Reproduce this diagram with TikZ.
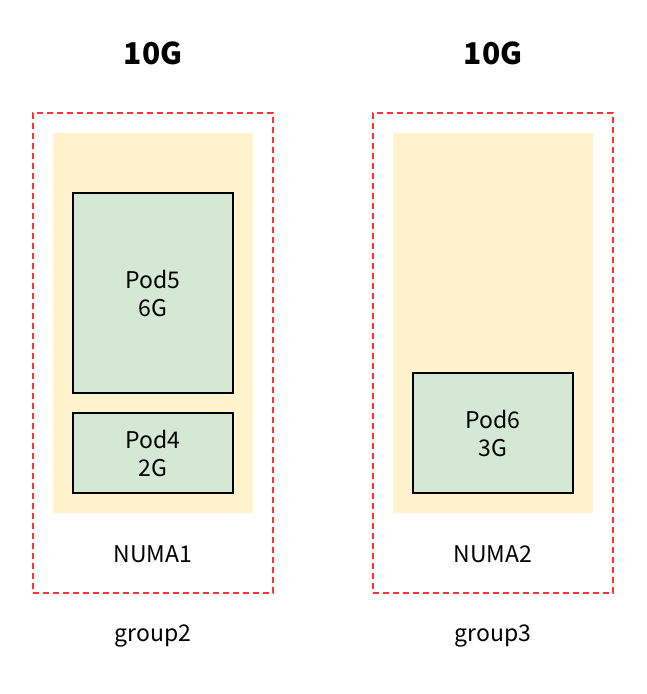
\documentclass[tikz,border=0pt]{standalone}
\usepackage{fontspec}
\setmainfont{Noto Sans CJK SC}
\definecolor{numaRed}{RGB}{255, 51, 51}
\definecolor{numaYellow}{RGB}{255, 242, 204}
\definecolor{podGreen}{RGB}{213, 232, 212}

\begin{document}
\begin{tikzpicture}[x=1pt, y=-1pt]
            \tikzstyle{groupbox} = [draw=numaRed, dash pattern=on 6pt off 4pt, line width=1.3pt, minimum width=240pt, minimum height=480pt]
            \tikzstyle{numabox} = [fill=numaYellow, minimum width=200pt, minimum height=380pt]
            \tikzstyle{podbox} = [draw=black, line width=2pt, fill=podGreen, minimum width=160pt, font=\fontsize{23}{28}\selectfont, align=center]
            \tikzstyle{caption} = [font=\fontsize{23}{28}\selectfont]
            \tikzstyle{size} = [font=\fontsize{30}{36}\selectfont\bfseries]
            \useasboundingbox (0,0) rectangle (646,694);

            % Group 2 / NUMA1
            \node[size] (s1) at (153,53) {10G};
            \node[groupbox] (g2) at (153,353) {};
            \node[numabox] (n1) at (153,323) {};
            \node[podbox, minimum height=200pt] (p5) at (153,293) {Pod5\\6G};
            \node[podbox, minimum height=80pt] (p4) at (153,453) {Pod4\\2G};
            \node[caption] (l1) at (153,554) {NUMA1};
            \node[caption] (c2) at (153,636) {group2};

            % Group 3 / NUMA2
            \node[size] (s2) at (493,53) {10G};
            \node[groupbox] (g3) at (493,353) {};
            \node[numabox] (n2) at (493,323) {};
            \node[podbox, minimum height=120pt] (p6) at (493,433) {Pod6\\3G};
            \node[caption] (l2) at (493,554) {NUMA2};
            \node[caption] (c3) at (493,636) {group3};
        \end{tikzpicture}
\end{document}
